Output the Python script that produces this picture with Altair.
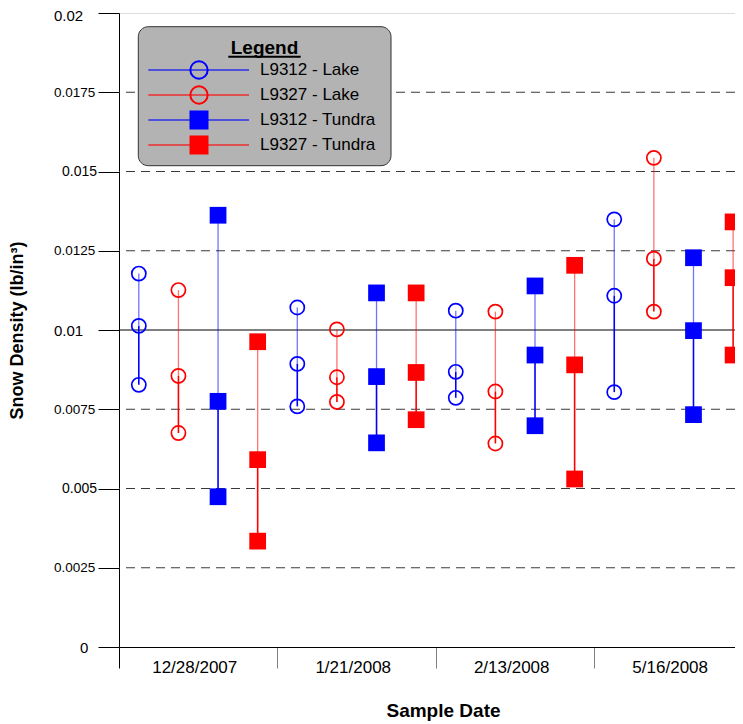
import altair as alt
import pandas as pd

# ---------------- data ----------------
dates = ["12/28/2007", "1/21/2008", "2/13/2008", "5/16/2008"]
series = ["L9312 - Lake", "L9327 - Lake", "L9312 - Tundra", "L9327 - Tundra"]
colors = ["#0000ff", "#ff0000", "#0000ff", "#ff0000"]

# three readings (high, middle, low) per sample date
l9312_lake = [[0.01178, 0.01013, 0.00827], [0.01071, 0.00893, 0.00759],
              [0.01061, 0.00868, 0.00786], [0.01349, 0.01108, 0.00804]]
l9327_lake = [[0.01126, 0.00855, 0.00675], [0.01002, 0.00851, 0.00773],
              [0.01058, 0.00806, 0.00642], [0.01543, 0.01225, 0.01058]]
l9312_tundra = [[0.01362, 0.00775, 0.00474], [0.01117, 0.00853, 0.00644],
                [0.01139, 0.00921, 0.00698], [0.01228, 0.00998, 0.00733]]
l9327_tundra = [[0.00963, 0.00591, 0.00334], [0.01117, 0.00866, 0.00717],
                [0.01204, 0.00890, 0.00530], [0.01341, 0.01165, 0.00921]]

y_ticks = [0, 0.0025, 0.005, 0.0075, 0.01, 0.0125, 0.015, 0.0175, 0.02]
dashed_levels = [0.0025, 0.005, 0.0075, 0.0125, 0.015, 0.0175]
solid_levels = [0.01]

all_series = [l9312_lake, l9327_lake, l9312_tundra, l9327_tundra]

# ---------------- tables ----------------
pts, segs = [], []
for g, d in enumerate(dates):
    for k, s in enumerate(series):
        slot = 4 * g + k + 0.5
        vals = all_series[k][g]
        kind = "Lake" if "Lake" in s else "Tundra"
        for v in vals:
            pts.append({"slot": slot, "value": v, "series": s, "kind": kind, "date": d})
        hi, mid, lo = sorted(vals, reverse=True)
        segs.append({"slot": slot, "value": hi, "value2": mid, "series": s, "part": "upper", "kind": kind})
        segs.append({"slot": slot, "value": mid, "value2": lo, "series": s, "part": "lower", "kind": kind})
pts = pd.DataFrame(pts)
segs = pd.DataFrame(segs)

FONT = "Liberation Sans"
W, H = 616, 634
SLOT_PX = 39.62
SLOTS = W / SLOT_PX

xscale = alt.Scale(domain=[0, SLOTS], nice=False, zero=False)
yscale = alt.Scale(domain=[0, 0.02], nice=False, zero=True)
cscale = alt.Scale(domain=series, range=colors)

date_arr = "[" + ",".join("'%s'" % d for d in dates) + "]"
xaxis = alt.Axis(
    values=[0, 2, 4, 6, 8, 10, 12, 14],
    labelExpr="datum.value % 4 == 2 ? " + date_arr + "[(datum.value - 2) / 4] : ''",
    grid=False, domainColor="black", domainWidth=1,
    tickSize=21, tickWidth=1,
    tickColor={"condition": {"test": "datum.value == 0", "value": "#000000"}, "value": "#808080"},
    tickOpacity={"condition": {"test": "datum.value % 4 != 0", "value": 0}, "value": 1},
    labelFont=FONT, labelFontSize=17, labelColor="black", labelPadding=-9,
    labelOffset=-4, labelOverlap=False, labelFlush=False,
    title="Sample Date", titleFont=FONT, titleFontSize=19, titleFontWeight="bold",
    titleColor="black", titleX=324, titleY=63, titleBaseline="middle", titleAlign="center",
)
four = "datum.value == 0.02 || datum.value == 0.01"
five = "datum.value == 0.015 || datum.value == 0.005"
yaxis = alt.Axis(
    values=y_ticks, labelExpr="'' + datum.value", grid=False,
    domainColor="black", domainWidth=1, tickColor="black", tickSize=21, tickWidth=1,
    labelFont=FONT, labelColor="black", labelAlign="left", labelBaseline="middle",
    labelOverlap=False, labelFlush=False,
    labelFontSize={"condition": [
        {"test": "datum.value == 0", "value": 15},
        {"test": four, "value": 15},
        {"test": five, "value": 14}], "value": 13.5},
    labelPadding={"condition": [
        {"test": "datum.value == 0", "value": 18.5},
        {"test": five, "value": 36.5}], "value": 44.5},
    labelOffset={"condition": {"test": "datum.value == 0.02", "value": 2.5}, "value": 0},
    title="Snow Density (lb/in³)", titleFont=FONT, titleFontSize=18, titleFontWeight="bold",
    titleColor="black", titleX=-101.5, titleY=317, titleAngle=270,
    titleAlign="center", titleBaseline="middle",
)


def Y(field="value"):
    return alt.Y(field + ":Q", scale=yscale, axis=yaxis)


X = alt.X("slot:Q", scale=xscale, axis=xaxis)
C = alt.Color("series:N", scale=cscale, legend=None)

grid_dashed = alt.Chart(pd.DataFrame({"value": dashed_levels})).mark_rule(
    color="#3a3a3a", strokeDash=[9, 6], strokeWidth=1).encode(y=Y())
grid_solid = alt.Chart(pd.DataFrame({"value": solid_levels})).mark_rule(
    color="#000000", strokeWidth=1).encode(y=Y())

upper = alt.Chart(segs).transform_filter("datum.part == 'upper'").mark_rule(
    strokeWidth=1.3, opacity=0.55).encode(x=X, y=Y(), y2="value2:Q", color=C)
lower = alt.Chart(segs).transform_filter("datum.part == 'lower'").mark_rule(
    strokeWidth=1.6).encode(x=X, y=Y(), y2="value2:Q", color=C)

circles = alt.Chart(pts).transform_filter("datum.kind == 'Lake'").mark_point(
    shape="circle", filled=False, size=200, strokeWidth=1.7, opacity=1).encode(x=X, y=Y(), color=C)
squares = alt.Chart(pts).transform_filter("datum.kind == 'Tundra'").mark_point(
    shape="square", filled=True, size=280, strokeWidth=0, opacity=1).encode(x=X, y=Y(), color=C)

# ---------------- legend box (layout in pixels) ----------------
one = alt.Data(values=[{}])
leg = [
    alt.Chart(one).mark_rect(fill="#b3b3b3", stroke="#333333", strokeWidth=1, cornerRadius=10).encode(
        x=alt.value(19.3), x2=alt.value(272), y=alt.value(13.7), y2=alt.value(152.7)),
    alt.Chart(one).mark_text(text="Legend", font=FONT, fontSize=19, fontWeight="bold",
                             align="center", baseline="alphabetic", color="black").encode(
        x=alt.value(145.5), y=alt.value(40.5)),
    alt.Chart(one).mark_rule(color="black", strokeWidth=2).encode(
        x=alt.value(109.3), x2=alt.value(181.7), y=alt.value(43.8)),
]
row_y = [57, 82, 107, 132]
for i, s in enumerate(series):
    ry = row_y[i]
    leg.append(alt.Chart(one).mark_rule(color=colors[i], strokeWidth=1.3, opacity=0.75).encode(
        x=alt.value(29.3), x2=alt.value(130), y=alt.value(ry)))
    if "Lake" in s:
        leg.append(alt.Chart(one).mark_point(shape="circle", filled=False, size=300, strokeWidth=2,
                                             color=colors[i], opacity=1).encode(
            x=alt.value(80), y=alt.value(ry)))
    else:
        leg.append(alt.Chart(one).mark_point(shape="square", filled=True, size=361, strokeWidth=0,
                                             color=colors[i], opacity=1).encode(
            x=alt.value(80), y=alt.value(ry)))
    leg.append(alt.Chart(one).mark_text(text=s, font=FONT, fontSize=17, align="left",
                                        baseline="middle", color="black").encode(
        x=alt.value(141), y=alt.value(ry)))

chart = alt.layer(grid_dashed, grid_solid, upper, lower, circles, squares, *leg).properties(
    width=W, height=H,
    padding={"left": 111, "top": 5, "right": 0, "bottom": 74},
    autosize=alt.AutoSizeParams(type="none"),
).configure_view(strokeWidth=0).configure(background="white")

chart.save("out.html", embed_options={"renderer": "svg", "actions": False})
